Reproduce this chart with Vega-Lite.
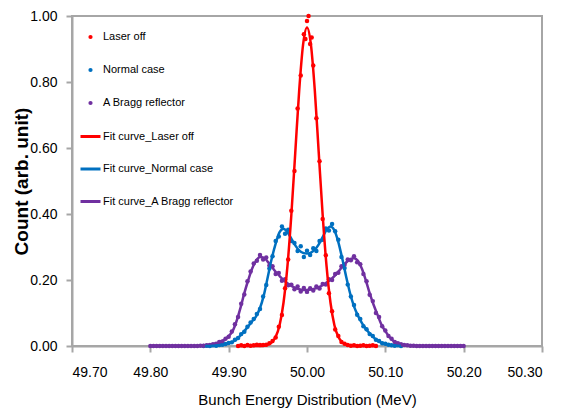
{
  "$schema": "https://vega.github.io/schema/vega-lite/v6.json",
  "width": 470,
  "height": 330,
  "autosize": "none",
  "padding": {"left": 72, "top": 16, "right": 19, "bottom": 67},
  "background": "white",
  "config": {
    "font": "Liberation Sans",
    "view": {"stroke": "#A6A6A6", "strokeWidth": 2},
    "axis": {"grid": false, "domainColor": "#A6A6A6", "domainWidth": 2, "tickColor": "#A6A6A6", "tickWidth": 2, "tickSize": 6, "labelColor": "#000000", "titleColor": "#000000", "labelFont": "Liberation Sans", "titleFont": "Liberation Sans"},
    "legend": {"labelFont": "Liberation Sans", "labelFontSize": 11, "labelColor": "#000000"}
  },
  "datasets": {
    "pts": [
      {"x": 49.800, "A Bragg reflector": 0.000},
      {"x": 49.804, "A Bragg reflector": 0.000},
      {"x": 49.808, "A Bragg reflector": 0.000},
      {"x": 49.812, "A Bragg reflector": 0.000},
      {"x": 49.816, "A Bragg reflector": 0.000},
      {"x": 49.820, "A Bragg reflector": 0.000},
      {"x": 49.824, "A Bragg reflector": 0.000},
      {"x": 49.828, "A Bragg reflector": 0.000},
      {"x": 49.832, "A Bragg reflector": 0.000},
      {"x": 49.836, "A Bragg reflector": 0.000},
      {"x": 49.840, "A Bragg reflector": 0.000},
      {"x": 49.844, "A Bragg reflector": 0.000},
      {"x": 49.848, "A Bragg reflector": 0.000},
      {"x": 49.852, "A Bragg reflector": 0.000},
      {"x": 49.856, "A Bragg reflector": 0.000},
      {"x": 49.860, "A Bragg reflector": 0.000},
      {"x": 49.864, "A Bragg reflector": 0.001},
      {"x": 49.868, "Normal case": 0.000, "A Bragg reflector": 0.001},
      {"x": 49.872, "Normal case": 0.001, "A Bragg reflector": 0.002},
      {"x": 49.876, "Normal case": 0.000, "A Bragg reflector": 0.003},
      {"x": 49.880, "Normal case": 0.002, "A Bragg reflector": 0.005},
      {"x": 49.884, "Normal case": 0.001, "A Bragg reflector": 0.007},
      {"x": 49.888, "Normal case": 0.003, "A Bragg reflector": 0.012},
      {"x": 49.892, "Normal case": 0.004, "A Bragg reflector": 0.014},
      {"x": 49.896, "Normal case": 0.006, "A Bragg reflector": 0.022},
      {"x": 49.900, "Normal case": 0.009, "A Bragg reflector": 0.028},
      {"x": 49.904, "Normal case": 0.011, "A Bragg reflector": 0.044},
      {"x": 49.908, "Normal case": 0.019, "A Bragg reflector": 0.066},
      {"x": 49.912, "Laser off": 0.000, "Normal case": 0.024, "A Bragg reflector": 0.088},
      {"x": 49.916, "Laser off": 0.002, "Normal case": 0.036, "A Bragg reflector": 0.128},
      {"x": 49.920, "Laser off": 0.000, "Normal case": 0.043, "A Bragg reflector": 0.156},
      {"x": 49.924, "Laser off": 0.003, "Normal case": 0.058, "A Bragg reflector": 0.196},
      {"x": 49.928, "Laser off": 0.001, "Normal case": 0.071, "A Bragg reflector": 0.226},
      {"x": 49.932, "Laser off": 0.002, "Normal case": 0.082, "A Bragg reflector": 0.250},
      {"x": 49.936, "Laser off": 0.004, "Normal case": 0.097, "A Bragg reflector": 0.258},
      {"x": 49.940, "Laser off": 0.003, "Normal case": 0.112, "A Bragg reflector": 0.276},
      {"x": 49.944, "Laser off": 0.003, "Normal case": 0.150, "A Bragg reflector": 0.262},
      {"x": 49.948, "Laser off": 0.004, "Normal case": 0.185, "A Bragg reflector": 0.268},
      {"x": 49.952, "Laser off": 0.008, "Normal case": 0.235, "A Bragg reflector": 0.244},
      {"x": 49.956, "Laser off": 0.015, "Normal case": 0.272, "A Bragg reflector": 0.242},
      {"x": 49.960, "Laser off": 0.026, "Normal case": 0.318, "A Bragg reflector": 0.218},
      {"x": 49.964, "Laser off": 0.058, "Normal case": 0.332, "A Bragg reflector": 0.221},
      {"x": 49.968, "Laser off": 0.094, "Normal case": 0.362, "A Bragg reflector": 0.198},
      {"x": 49.972, "Laser off": 0.175, "Normal case": 0.340, "A Bragg reflector": 0.202},
      {"x": 49.976, "Laser off": 0.262, "Normal case": 0.352, "A Bragg reflector": 0.184},
      {"x": 49.980, "Laser off": 0.410, "Normal case": 0.318, "A Bragg reflector": 0.186},
      {"x": 49.984, "Laser off": 0.530, "Normal case": 0.312, "A Bragg reflector": 0.172},
      {"x": 49.988, "Laser off": 0.720, "Normal case": 0.288, "A Bragg reflector": 0.180},
      {"x": 49.992, "Laser off": 0.820, "Normal case": 0.302, "A Bragg reflector": 0.165},
      {"x": 49.996, "Laser off": 0.945, "Normal case": 0.270, "A Bragg reflector": 0.176},
      {"x": 49.998, "Laser off": 0.930},
      {"x": 50.000, "Laser off": 0.985, "Normal case": 0.289, "A Bragg reflector": 0.164},
      {"x": 50.002, "Laser off": 1.000},
      {"x": 50.004, "Laser off": 0.915, "Normal case": 0.276, "A Bragg reflector": 0.175},
      {"x": 50.006, "Laser off": 0.935},
      {"x": 50.008, "Laser off": 0.850, "Normal case": 0.296, "A Bragg reflector": 0.168},
      {"x": 50.012, "Laser off": 0.690, "Normal case": 0.288, "A Bragg reflector": 0.180},
      {"x": 50.016, "Laser off": 0.560, "Normal case": 0.318, "A Bragg reflector": 0.174},
      {"x": 50.020, "Laser off": 0.385, "Normal case": 0.322, "A Bragg reflector": 0.188},
      {"x": 50.024, "Laser off": 0.275, "Normal case": 0.356, "A Bragg reflector": 0.186},
      {"x": 50.028, "Laser off": 0.160, "Normal case": 0.350, "A Bragg reflector": 0.202},
      {"x": 50.032, "Laser off": 0.105, "Normal case": 0.370, "A Bragg reflector": 0.200},
      {"x": 50.036, "Laser off": 0.050, "Normal case": 0.348, "A Bragg reflector": 0.218},
      {"x": 50.040, "Laser off": 0.030, "Normal case": 0.322, "A Bragg reflector": 0.222},
      {"x": 50.044, "Laser off": 0.012, "Normal case": 0.270, "A Bragg reflector": 0.242},
      {"x": 50.048, "Laser off": 0.007, "Normal case": 0.236, "A Bragg reflector": 0.246},
      {"x": 50.052, "Laser off": 0.003, "Normal case": 0.186, "A Bragg reflector": 0.262},
      {"x": 50.056, "Laser off": 0.001, "Normal case": 0.150, "A Bragg reflector": 0.260},
      {"x": 50.060, "Laser off": 0.002, "Normal case": 0.124, "A Bragg reflector": 0.272},
      {"x": 50.064, "Laser off": 0.000, "Normal case": 0.095, "A Bragg reflector": 0.254},
      {"x": 50.068, "Laser off": 0.001, "Normal case": 0.082, "A Bragg reflector": 0.248},
      {"x": 50.072, "Laser off": 0.002, "Normal case": 0.060, "A Bragg reflector": 0.218},
      {"x": 50.076, "Laser off": 0.000, "Normal case": 0.051, "A Bragg reflector": 0.196},
      {"x": 50.080, "Laser off": 0.001, "Normal case": 0.036, "A Bragg reflector": 0.155},
      {"x": 50.084, "Laser off": 0.002, "Normal case": 0.030, "A Bragg reflector": 0.136},
      {"x": 50.088, "Laser off": 0.000, "Normal case": 0.019, "A Bragg reflector": 0.100},
      {"x": 50.092, "Normal case": 0.015, "A Bragg reflector": 0.088},
      {"x": 50.096, "Normal case": 0.008, "A Bragg reflector": 0.060},
      {"x": 50.100, "Normal case": 0.007, "A Bragg reflector": 0.047},
      {"x": 50.104, "Normal case": 0.004, "A Bragg reflector": 0.030},
      {"x": 50.108, "Normal case": 0.002, "A Bragg reflector": 0.022},
      {"x": 50.112, "Normal case": 0.001, "A Bragg reflector": 0.012},
      {"x": 50.116, "Normal case": 0.002, "A Bragg reflector": 0.008},
      {"x": 50.120, "Normal case": 0.000, "A Bragg reflector": 0.005},
      {"x": 50.124, "A Bragg reflector": 0.003},
      {"x": 50.128, "A Bragg reflector": 0.002},
      {"x": 50.132, "A Bragg reflector": 0.001},
      {"x": 50.136, "A Bragg reflector": 0.001},
      {"x": 50.140, "A Bragg reflector": 0.000},
      {"x": 50.144, "A Bragg reflector": 0.000},
      {"x": 50.148, "A Bragg reflector": 0.000},
      {"x": 50.152, "A Bragg reflector": 0.000},
      {"x": 50.156, "A Bragg reflector": 0.000},
      {"x": 50.160, "A Bragg reflector": 0.000},
      {"x": 50.164, "A Bragg reflector": 0.000},
      {"x": 50.168, "A Bragg reflector": 0.000},
      {"x": 50.172, "A Bragg reflector": 0.000},
      {"x": 50.176, "A Bragg reflector": 0.000},
      {"x": 50.180, "A Bragg reflector": 0.000},
      {"x": 50.184, "A Bragg reflector": 0.000},
      {"x": 50.188, "A Bragg reflector": 0.000},
      {"x": 50.192, "A Bragg reflector": 0.000},
      {"x": 50.196, "A Bragg reflector": 0.000},
      {"x": 50.200, "A Bragg reflector": 0.000}
    ],
    "fits": [
      {"x": 49.800, "Fit curve_A Bragg reflector": 0.000},
      {"x": 49.860, "Fit curve_A Bragg reflector": 0.000},
      {"x": 49.870, "Fit curve_Normal case": 0.000, "Fit curve_A Bragg reflector": 0.002},
      {"x": 49.880, "Fit curve_Normal case": 0.001, "Fit curve_A Bragg reflector": 0.005},
      {"x": 49.885, "Fit curve_Normal case": 0.002, "Fit curve_A Bragg reflector": 0.008},
      {"x": 49.890, "Fit curve_Normal case": 0.003, "Fit curve_A Bragg reflector": 0.013},
      {"x": 49.895, "Fit curve_Normal case": 0.005, "Fit curve_A Bragg reflector": 0.020},
      {"x": 49.900, "Fit curve_Normal case": 0.008, "Fit curve_A Bragg reflector": 0.030},
      {"x": 49.905, "Fit curve_Normal case": 0.013, "Fit curve_A Bragg reflector": 0.045},
      {"x": 49.910, "Fit curve_Laser off": 0.000, "Fit curve_Normal case": 0.020, "Fit curve_A Bragg reflector": 0.075},
      {"x": 49.915, "Fit curve_Laser off": 0.000, "Fit curve_Normal case": 0.032, "Fit curve_A Bragg reflector": 0.115},
      {"x": 49.920, "Fit curve_Laser off": 0.000, "Fit curve_Normal case": 0.045, "Fit curve_A Bragg reflector": 0.160},
      {"x": 49.925, "Fit curve_Laser off": 0.000, "Fit curve_Normal case": 0.060, "Fit curve_A Bragg reflector": 0.200},
      {"x": 49.930, "Fit curve_Laser off": 0.000, "Fit curve_Normal case": 0.075, "Fit curve_A Bragg reflector": 0.235},
      {"x": 49.935, "Fit curve_Laser off": 0.000, "Fit curve_Normal case": 0.090, "Fit curve_A Bragg reflector": 0.258},
      {"x": 49.940, "Fit curve_Laser off": 0.000, "Fit curve_Normal case": 0.115, "Fit curve_A Bragg reflector": 0.270},
      {"x": 49.945, "Fit curve_Laser off": 0.001, "Fit curve_Normal case": 0.155, "Fit curve_A Bragg reflector": 0.268},
      {"x": 49.950, "Fit curve_Laser off": 0.004, "Fit curve_Normal case": 0.210, "Fit curve_A Bragg reflector": 0.255},
      {"x": 49.955, "Fit curve_Laser off": 0.011, "Fit curve_Normal case": 0.265, "Fit curve_A Bragg reflector": 0.240},
      {"x": 49.960, "Fit curve_Laser off": 0.028, "Fit curve_Normal case": 0.310, "Fit curve_A Bragg reflector": 0.225},
      {"x": 49.965, "Fit curve_Laser off": 0.063, "Fit curve_Normal case": 0.345, "Fit curve_A Bragg reflector": 0.212},
      {"x": 49.970, "Fit curve_Laser off": 0.131, "Fit curve_Normal case": 0.355, "Fit curve_A Bragg reflector": 0.200},
      {"x": 49.975, "Fit curve_Laser off": 0.241, "Fit curve_Normal case": 0.345, "Fit curve_A Bragg reflector": 0.190},
      {"x": 49.980, "Fit curve_Laser off": 0.397, "Fit curve_Normal case": 0.325, "Fit curve_A Bragg reflector": 0.182},
      {"x": 49.985, "Fit curve_Laser off": 0.585, "Fit curve_Normal case": 0.305, "Fit curve_A Bragg reflector": 0.176},
      {"x": 49.990, "Fit curve_Laser off": 0.773, "Fit curve_Normal case": 0.290, "Fit curve_A Bragg reflector": 0.172},
      {"x": 49.995, "Fit curve_Laser off": 0.913, "Fit curve_Normal case": 0.282, "Fit curve_A Bragg reflector": 0.170},
      {"x": 50.000, "Fit curve_Laser off": 0.965, "Fit curve_Normal case": 0.280, "Fit curve_A Bragg reflector": 0.170},
      {"x": 50.005, "Fit curve_Laser off": 0.913, "Fit curve_Normal case": 0.283, "Fit curve_A Bragg reflector": 0.171},
      {"x": 50.010, "Fit curve_Laser off": 0.773, "Fit curve_Normal case": 0.292, "Fit curve_A Bragg reflector": 0.174},
      {"x": 50.015, "Fit curve_Laser off": 0.585, "Fit curve_Normal case": 0.308, "Fit curve_A Bragg reflector": 0.178},
      {"x": 50.020, "Fit curve_Laser off": 0.397, "Fit curve_Normal case": 0.330, "Fit curve_A Bragg reflector": 0.184},
      {"x": 50.025, "Fit curve_Laser off": 0.241, "Fit curve_Normal case": 0.352, "Fit curve_A Bragg reflector": 0.192},
      {"x": 50.030, "Fit curve_Laser off": 0.131, "Fit curve_Normal case": 0.362, "Fit curve_A Bragg reflector": 0.201},
      {"x": 50.035, "Fit curve_Laser off": 0.063, "Fit curve_Normal case": 0.350, "Fit curve_A Bragg reflector": 0.212},
      {"x": 50.040, "Fit curve_Laser off": 0.028, "Fit curve_Normal case": 0.315, "Fit curve_A Bragg reflector": 0.225},
      {"x": 50.045, "Fit curve_Laser off": 0.011, "Fit curve_Normal case": 0.265, "Fit curve_A Bragg reflector": 0.240},
      {"x": 50.050, "Fit curve_Laser off": 0.004, "Fit curve_Normal case": 0.210, "Fit curve_A Bragg reflector": 0.253},
      {"x": 50.055, "Fit curve_Laser off": 0.001, "Fit curve_Normal case": 0.160, "Fit curve_A Bragg reflector": 0.263},
      {"x": 50.060, "Fit curve_Laser off": 0.000, "Fit curve_Normal case": 0.120, "Fit curve_A Bragg reflector": 0.266},
      {"x": 50.065, "Fit curve_Laser off": 0.000, "Fit curve_Normal case": 0.092, "Fit curve_A Bragg reflector": 0.258},
      {"x": 50.070, "Fit curve_Laser off": 0.000, "Fit curve_Normal case": 0.070, "Fit curve_A Bragg reflector": 0.235},
      {"x": 50.075, "Fit curve_Laser off": 0.000, "Fit curve_Normal case": 0.052, "Fit curve_A Bragg reflector": 0.200},
      {"x": 50.080, "Fit curve_Laser off": 0.000, "Fit curve_Normal case": 0.038, "Fit curve_A Bragg reflector": 0.160},
      {"x": 50.085, "Fit curve_Laser off": 0.000, "Fit curve_Normal case": 0.026, "Fit curve_A Bragg reflector": 0.125},
      {"x": 50.090, "Fit curve_Laser off": 0.000, "Fit curve_Normal case": 0.016, "Fit curve_A Bragg reflector": 0.095},
      {"x": 50.095, "Fit curve_Normal case": 0.010, "Fit curve_A Bragg reflector": 0.065},
      {"x": 50.100, "Fit curve_Normal case": 0.006, "Fit curve_A Bragg reflector": 0.045},
      {"x": 50.105, "Fit curve_Normal case": 0.004, "Fit curve_A Bragg reflector": 0.028},
      {"x": 50.110, "Fit curve_Normal case": 0.002, "Fit curve_A Bragg reflector": 0.016},
      {"x": 50.115, "Fit curve_Normal case": 0.001, "Fit curve_A Bragg reflector": 0.009},
      {"x": 50.120, "Fit curve_Normal case": 0.000, "Fit curve_A Bragg reflector": 0.004},
      {"x": 50.130, "Fit curve_A Bragg reflector": 0.001},
      {"x": 50.140, "Fit curve_A Bragg reflector": 0.000},
      {"x": 50.200, "Fit curve_A Bragg reflector": 0.000}
    ]
  },
  "layer": [
    {
      "data": {"name": "pts"},
      "transform": [
        {"fold": ["Laser off", "Normal case", "A Bragg reflector"], "as": ["series", "y"]},
        {"filter": "isValid(datum.y)"}
      ],
      "mark": {"type": "point", "filled": true, "size": 20, "opacity": 1},
      "encoding": {
        "x": {
          "field": "x", "type": "quantitative",
          "scale": {"domain": [49.7, 50.3], "nice": false, "zero": false},
          "axis": {"values": [49.7, 49.8, 49.9, 50.0, 50.1, 50.2, 50.3], "format": ".2f", "labelFontSize": 14, "labelPadding": 13, "title": "Bunch Energy Distribution (MeV)", "titleFontSize": 15, "titleFontWeight": "normal", "titlePadding": 13}
        },
        "y": {
          "field": "y", "type": "quantitative",
          "scale": {"domain": [0, 1], "nice": false},
          "axis": {"values": [0, 0.2, 0.4, 0.6, 0.8, 1.0], "format": ".2f", "labelFontSize": 14, "labelPadding": 9, "title": "Count (arb. unit)", "titleFontSize": 19, "titleFontWeight": "bold", "titlePadding": -2}
        },
        "color": {
          "field": "series", "type": "nominal",
          "scale": {"domain": ["Laser off", "Normal case", "A Bragg reflector"], "range": ["#FF0000", "#0070C0", "#7030A0"]},
          "legend": {"title": null, "orient": "none", "legendX": 13, "legendY": 15.5, "symbolType": "circle", "symbolSize": 18, "labelOffset": 7, "rowPadding": 21}
        }
      }
    },
    {
      "data": {"name": "fits"},
      "transform": [
        {"fold": ["Fit curve_A Bragg reflector"], "as": ["series", "y"]},
        {"filter": "isValid(datum.y)"}
      ],
      "mark": {"type": "line", "strokeWidth": 2.5, "interpolate": "monotone"},
      "encoding": {
        "x": {"field": "x", "type": "quantitative"},
        "y": {"field": "y", "type": "quantitative"},
        "stroke": {
          "field": "series", "type": "nominal",
          "scale": {"domain": ["Fit curve_Laser off", "Fit curve_Normal case", "Fit curve_A Bragg reflector"], "range": ["#FF0000", "#0070C0", "#7030A0"]},
          "legend": {"title": null, "orient": "none", "legendX": 7, "legendY": 109, "symbolType": "stroke", "symbolSize": 400, "symbolStrokeWidth": 3, "labelOffset": 1, "rowPadding": 14.5}
        }
      }
    },
    {
      "data": {"name": "fits"},
      "transform": [
        {"fold": ["Fit curve_Normal case"], "as": ["series", "y"]},
        {"filter": "isValid(datum.y)"}
      ],
      "mark": {"type": "line", "strokeWidth": 2.5, "interpolate": "monotone"},
      "encoding": {
        "x": {"field": "x", "type": "quantitative"},
        "y": {"field": "y", "type": "quantitative"},
        "stroke": {
          "field": "series", "type": "nominal",
          "scale": {"domain": ["Fit curve_Laser off", "Fit curve_Normal case", "Fit curve_A Bragg reflector"], "range": ["#FF0000", "#0070C0", "#7030A0"]},
          "legend": {"title": null, "orient": "none", "legendX": 7, "legendY": 109, "symbolType": "stroke", "symbolSize": 400, "symbolStrokeWidth": 3, "labelOffset": 1, "rowPadding": 14.5}
        }
      }
    },
    {
      "data": {"name": "fits"},
      "transform": [
        {"fold": ["Fit curve_Laser off"], "as": ["series", "y"]},
        {"filter": "isValid(datum.y)"}
      ],
      "mark": {"type": "line", "strokeWidth": 2.5, "interpolate": "monotone"},
      "encoding": {
        "x": {"field": "x", "type": "quantitative"},
        "y": {"field": "y", "type": "quantitative"},
        "stroke": {
          "field": "series", "type": "nominal",
          "scale": {"domain": ["Fit curve_Laser off", "Fit curve_Normal case", "Fit curve_A Bragg reflector"], "range": ["#FF0000", "#0070C0", "#7030A0"]},
          "legend": {"title": null, "orient": "none", "legendX": 7, "legendY": 109, "symbolType": "stroke", "symbolSize": 400, "symbolStrokeWidth": 3, "labelOffset": 1, "rowPadding": 14.5}
        }
      }
    }
  ]
}
